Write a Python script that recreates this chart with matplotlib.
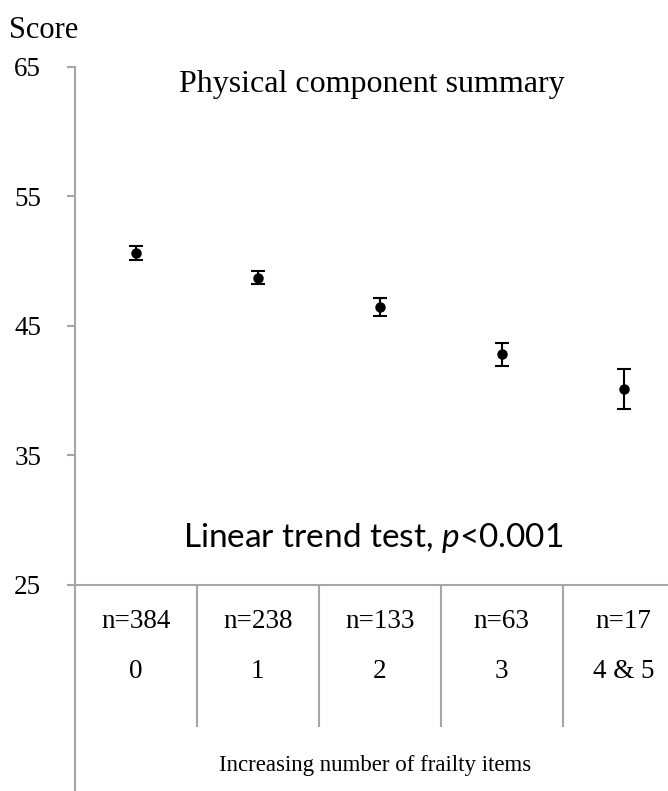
import matplotlib
matplotlib.use("Agg")
import matplotlib.pyplot as plt
import numpy as np

categories = ["0", "1", "2", "3", "4 & 5"]
n_labels = ["n=384", "n=238", "n=133", "n=63", "n=17"]
means = [50.6, 48.7, 46.45, 42.8, 40.1]
errors = [0.55, 0.5, 0.7, 0.9, 1.55]
yticks = [25, 35, 45, 55, 65]

plt.rcParams["mathtext.fontset"] = "custom"
plt.rcParams["mathtext.rm"] = "Lato"
plt.rcParams["mathtext.it"] = "Lato:italic"

W, H = 668, 791
fig = plt.figure(figsize=(W / 100, H / 100), dpi=100)
serif = "Liberation Serif"
gray = "#a6a6a6"

left = 74.7 / W
x_top = 66.7
x_bot = 584.7
ax = fig.add_axes([left, (H - x_bot) / H, 1 - left, (x_bot - x_top) / H])
cat_w = 122.0
xmax = -0.5 + (W - 74.7) / cat_w
ax.set_xlim(-0.5, xmax)
ax.set_ylim(25, 65)
x = np.arange(len(categories))
ax.errorbar(x, means, yerr=errors, fmt="o", color="black", ms=6.5,
            capsize=5, elinewidth=1.5, capthick=1.5)
for s in ["top", "right"]:
    ax.spines[s].set_visible(False)
for s in ["left", "bottom"]:
    ax.spines[s].set_color(gray)
    ax.spines[s].set_linewidth(1.5)
ax.set_yticks(yticks)
ax.set_yticklabels([str(v) for v in yticks], fontfamily=serif, fontsize=19.5)
ax.tick_params(axis="y", length=6, width=1.5, color=gray, pad=18)
ax.set_xticks([])

ax.text(0.5, 0.966, "Physical component summary", transform=ax.transAxes,
        ha="center", va="center", fontfamily=serif, fontsize=23)
ax.text(0.503, 0.09, "Linear trend test, $\\mathit{p}$<0.001",
        transform=ax.transAxes, ha="center", va="center",
        fontfamily="Lato", fontsize=24)

fig.text(9 / W, 1 - 30 / H, "Score", ha="left", va="center",
         fontfamily=serif, fontsize=22)

# lower table area
tb = fig.add_axes([left, 0, 1 - left, (H - x_bot) / H])
tb.set_xlim(-0.5, xmax)
tb.set_ylim(0, 1)
tb.axis("off")
tb.axvline(-0.5, 0, 1, color=gray, lw=1.5, clip_on=False)
for b in np.arange(len(categories)) + 0.5:
    tb.axvline(b, (H - 726) / (H - x_bot), 1, color=gray, lw=1.5)
tbh = H - x_bot
for i, (nl, c) in enumerate(zip(n_labels, categories)):
    tb.text(i, (H - 622) / tbh, nl, ha="center", va="center",
            fontfamily=serif, fontsize=19.5)
    tb.text(i, (H - 672) / tbh, c, ha="center", va="center",
            fontfamily=serif, fontsize=19.5)
tb.text(0.506, (H - 765) / tbh, "Increasing number of frailty items",
        transform=tb.transAxes,
        ha="center", va="center", fontfamily=serif, fontsize=16.5)

fig.savefig("out.png", dpi=100)
